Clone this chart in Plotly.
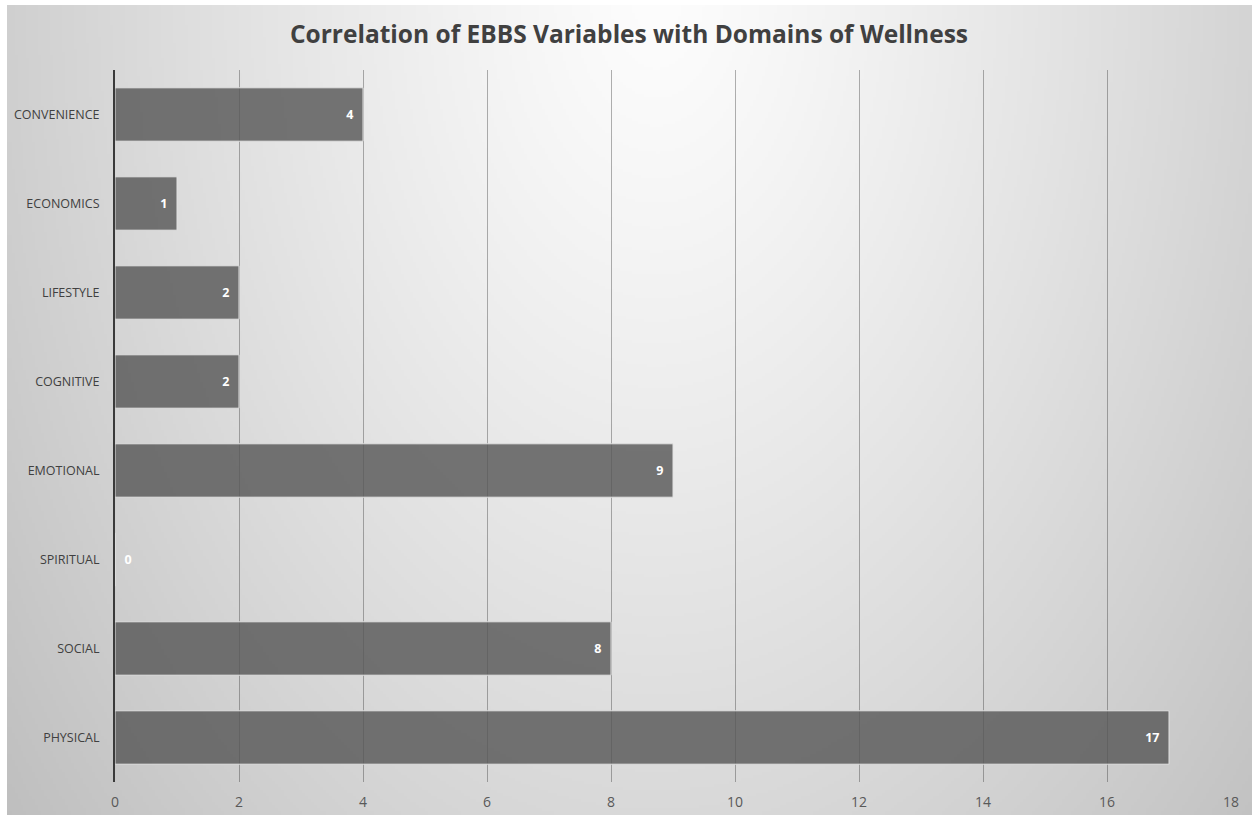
import base64, struct, zlib
import numpy as np
import plotly.graph_objects as go

categories = ["CONVENIENCE", "ECONOMICS", "LIFESTYLE", "COGNITIVE",
              "EMOTIONAL", "SPIRITUAL", "SOCIAL", "PHYSICAL"]
values = [4, 1, 2, 2, 9, 0, 8, 17]
x_ticks = [0, 2, 4, 6, 8, 10, 12, 14, 16, 18]
title_text = "Correlation of EBBS Variables with Domains of Wellness"

W, H = 1252, 815
ML, MR, MT, MB = 115, 21, 70, 33
PW, PH = W - ML - MR, H - MT - MB


def gradient_png(w, h, full_w, full_h):
    yy, xx = np.mgrid[0:h, 0:w].astype(float)
    xx = xx / (w - 1) * full_w
    yy = yy / (h - 1) * full_h
    d = np.sqrt(((xx - 650) / 820) ** 2 + ((yy + 10) / 1250) ** 2)
    v = 253 - 60 * d ** 1.2
    v = np.clip(v, 190, 255).astype(np.uint8)
    raw = b"".join(b"\x00" + v[r].tobytes() for r in range(h))
    def chunk(t, data):
        c = struct.pack(">I", len(data)) + t + data
        return c + struct.pack(">I", zlib.crc32(t + data) & 0xffffffff)
    png = b"\x89PNG\r\n\x1a\n" + chunk(b"IHDR", struct.pack(">IIBBBBB", w, h, 8, 0, 0, 0, 0)) \
        + chunk(b"IDAT", zlib.compress(raw, 9)) + chunk(b"IEND", b"")
    return "data:image/png;base64," + base64.b64encode(png).decode()


bg_x0, bg_y0 = 7, 5
bg_w, bg_h = W - bg_x0, H - bg_y0
src = gradient_png(bg_w // 3, bg_h // 3, bg_w, bg_h)

NB = "\u00a0\u00a0"
positions = ["outside" if v == 0 else "inside" for v in values]
labels = [(NB + str(v)) if v == 0 else (str(v) + NB) for v in values]

fig = go.Figure()
fig.add_trace(go.Bar(
    y=categories, x=values, orientation="h",
    text=labels, textposition=positions,
    insidetextanchor="end",
    textfont=dict(family="Open Sans", size=12.5, color="white", weight="bold"),
    outsidetextfont=dict(family="Open Sans", size=12.5, color="white", weight="bold"),
    marker=dict(color="rgba(88,88,88,0.82)", line=dict(color="#e2e2e2", width=1)),
    width=0.6, cliponaxis=False,
))

fig.update_layout(
    width=W, height=H,
    margin=dict(l=ML, r=MR, t=MT, b=MB, pad=0),
    paper_bgcolor="white", plot_bgcolor="rgba(0,0,0,0)",
    showlegend=False,
    title=dict(text=title_text, x=629 / W, xanchor="center", xref="container",
               y=1 - 34 / H, yanchor="middle", yref="container",
               font=dict(family="Open Sans", size=24.5, color="#404040", weight="bold")),
    images=[dict(source=src, xref="paper", yref="paper",
                 x=(bg_x0 - ML) / PW, y=(H - MB - bg_y0) / PH,
                 sizex=bg_w / PW, sizey=bg_h / PH,
                 sizing="stretch", xanchor="left", yanchor="top", layer="below")],
    xaxis=dict(range=[0, 18], tickvals=x_ticks, showgrid=True,
               gridcolor="rgba(50,50,50,0.38)", gridwidth=1, zeroline=False,
               ticks="outside", ticklen=7, tickcolor="rgba(0,0,0,0)",
               tickfont=dict(family="Open Sans", size=14, color="#595959"),
               automargin=False, fixedrange=True),
    yaxis=dict(categoryorder="array", categoryarray=categories[::-1],
               showline=True, linecolor="#3a3a3a", linewidth=2,
               showgrid=False, ticks="outside", ticklen=11,
               tickcolor="rgba(0,0,0,0)",
               tickfont=dict(family="Open Sans", size=12.5, color="#404040"),
               automargin=False, fixedrange=True),
    bargap=0.4,
)

fig.write_html("out.html")
